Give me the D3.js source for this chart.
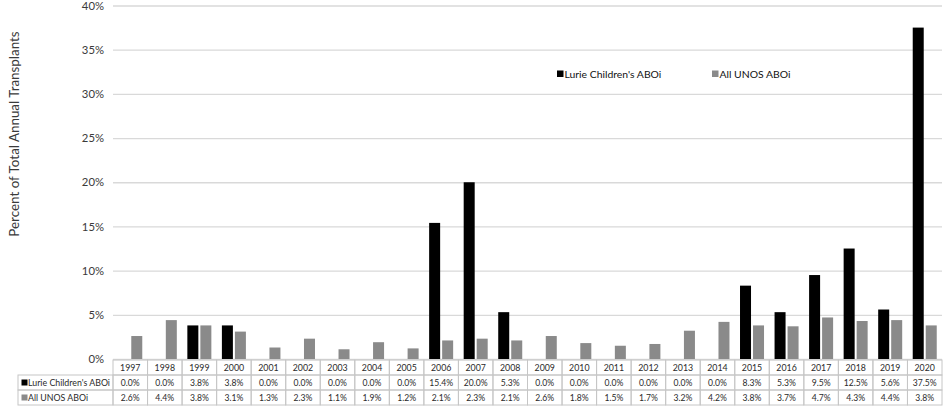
<!DOCTYPE html>
<html>
<head>
<meta charset="utf-8">
<script src="https://cdn.jsdelivr.net/npm/d3@7"></script>
<style>
  html, body { margin: 0; padding: 0; background: #fff; }
  svg { display: block; font-family: Lato, "Open Sans", sans-serif; }
</style>
</head>
<body>
<svg id="chart" width="945" height="409"></svg>
<script>
const years = ["1997","1998","1999","2000","2001","2002","2003","2004","2005","2006","2007","2008","2009","2010","2011","2012","2013","2014","2015","2016","2017","2018","2019","2020"];
const lurieValues = [0.0,0.0,3.8,3.8,0.0,0.0,0.0,0.0,0.0,15.4,20.0,5.3,0.0,0.0,0.0,0.0,0.0,0.0,8.3,5.3,9.5,12.5,5.6,37.5];
const unosValues = [2.6,4.4,3.8,3.1,1.3,2.3,1.1,1.9,1.2,2.1,2.3,2.1,2.6,1.8,1.5,1.7,3.2,4.2,3.8,3.7,4.7,4.3,4.4,3.8];
const seriesNames = ["Lurie Children's ABOi", "All UNOS ABOi"];
const seriesColors = ["#000000", "#8a8a8a"];
const yTicks = [0,5,10,15,20,25,30,35,40];
const yTitle = "Percent of Total Annual Transplants";

(function () {
const svg = d3.select("#chart");
const pLeft = 113, pRight = 942, pTop = 5.5, pBottom = 359;

const x = d3.scaleBand().domain(years).range([pLeft, pRight]).paddingInner(0).paddingOuter(0);
const x1 = d3.scaleBand().domain([0,1]).range([0, x.bandwidth()]).paddingInner(0.154).paddingOuter(0.405);
const y = d3.scaleLinear().domain([0, 40]).range([pBottom, pTop]);

// gridlines
const yAxis = d3.axisLeft(y).tickValues(yTicks).tickSize(-(pRight - pLeft)).tickFormat(d => d + "%");
const gAxis = svg.append("g").attr("transform", `translate(${pLeft},0)`).call(yAxis);
gAxis.select(".domain").remove();
gAxis.selectAll(".tick line").attr("stroke", "#d9d9d9").attr("stroke-width", 1.3);
gAxis.selectAll(".tick text").attr("x", -9).attr("fill", "#3a3a3a")
  .style("font-size", "11.3px").style("font-family", "Lato, sans-serif");

// y title
svg.append("text")
  .attr("transform", "translate(18.5,134) rotate(-90)")
  .attr("text-anchor", "middle")
  .attr("fill", "#3a3a3a")
  .style("font-size", "13.4px")
  .text(yTitle);

// bars
const series = [lurieValues, unosValues];
series.forEach((vals, si) => {
  svg.append("g").selectAll("rect").data(vals).join("rect")
    .attr("x", (d, i) => x(years[i]) + x1(si))
    .attr("width", x1.bandwidth())
    .attr("y", d => y(d))
    .attr("height", d => y(0) - y(d))
    .attr("fill", seriesColors[si]);
});

// legend
const legendItems = [{x: 557}, {x: 712}];
legendItems.forEach((it, i) => {
  svg.append("rect").attr("x", it.x).attr("y", 70.5).attr("width", 6.5).attr("height", 6.5).attr("fill", seriesColors[i]);
  svg.append("text").attr("x", it.x + 7.5).attr("y", 77.5).attr("fill", "#111")
    .style("font-size", "10.4px").text(seriesNames[i]);
});

// data table
const rowTop = 360, rowH = 15, tableLeft = 18;
const border = "#c6c6c6";
const tbl = svg.append("g");
years.forEach((yr, i) => {
  tbl.append("rect").attr("x", x(yr)).attr("y", rowTop).attr("width", x.bandwidth()).attr("height", rowH)
    .attr("fill", "none").attr("stroke", border).attr("stroke-width", 1);
  tbl.append("text").attr("x", x(yr) + x.bandwidth()/2).attr("y", rowTop + 11)
    .attr("text-anchor", "middle").attr("fill", "#2a2a2a").style("font-size", "8.8px").text(yr);
});
series.forEach((vals, si) => {
  const ry = rowTop + rowH * (si + 1);
  tbl.append("rect").attr("x", tableLeft).attr("y", ry).attr("width", pLeft - tableLeft).attr("height", rowH)
    .attr("fill", "none").attr("stroke", border);
  tbl.append("rect").attr("x", tableLeft + 3.5).attr("y", ry + 4.5).attr("width", 6).attr("height", 6).attr("fill", seriesColors[si]);
  tbl.append("text").attr("x", tableLeft + 10).attr("y", ry + 11).attr("fill", "#2a2a2a")
    .style("font-size", "8.8px").text(seriesNames[si]);
  vals.forEach((v, i) => {
    tbl.append("rect").attr("x", x(years[i])).attr("y", ry).attr("width", x.bandwidth()).attr("height", rowH)
      .attr("fill", "none").attr("stroke", border);
    tbl.append("text").attr("x", x(years[i]) + x.bandwidth()/2).attr("y", ry + 11)
      .attr("text-anchor", "middle").attr("fill", "#2a2a2a").style("font-size", "8.6px").text(v.toFixed(1) + "%");
  });
});
})();
</script>
</body>
</html>
